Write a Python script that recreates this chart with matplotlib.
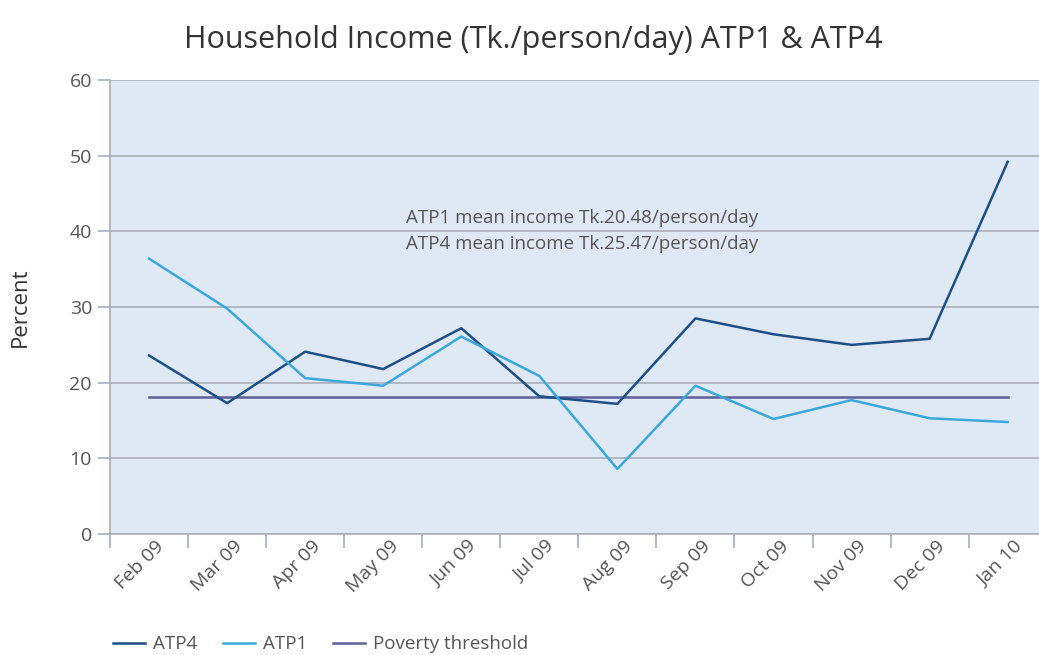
import matplotlib
matplotlib.use("Agg")
from matplotlib import pyplot as plt
from matplotlib.ticker import FixedLocator
from matplotlib.transforms import ScaledTranslation

plt.rcParams['font.family'] = ['Open Sans', 'DejaVu Sans']

# dane
months = ["Feb 09", "Mar 09", "Apr 09", "May 09", "Jun 09", "Jul 09",
          "Aug 09", "Sep 09", "Oct 09", "Nov 09", "Dec 09", "Jan 10"]
atp4 = [23.6, 17.3, 24.1, 21.8, 27.2, 18.2, 17.2, 28.5, 26.4, 25.0, 25.8, 49.2]
atp1 = [36.4, 29.8, 20.6, 19.6, 26.1, 20.9, 8.6, 19.6, 15.2, 17.7, 15.3, 14.8]
poverty = [18.1] * 12
y_ticks = [0, 10, 20, 30, 40, 50, 60]

c_atp4 = "#1d4f86"
c_atp1 = "#3ba7da"
c_pov = "#5c5f98"
c_text = "#555555"
c_grid = "#a8afb7"

fig = plt.figure(figsize=(10.39, 6.55), dpi=100)
ax = fig.add_axes([0.1059, 0.1847, 0.894, 0.6931])
ax.set_facecolor("#dfe9f5")

x = list(range(len(months)))
ax.plot(x, atp4, color=c_atp4, lw=1.8, label="ATP4", zorder=3)
ax.plot(x, atp1, color=c_atp1, lw=1.8, label="ATP1", zorder=3)
ax.plot(x, poverty, color=c_pov, lw=1.8, label="Poverty threshold", zorder=2)

ax.set_xlim(-0.5, 11.4)
ax.set_ylim(0, 60)
ax.set_yticks(y_ticks)
ax.yaxis.grid(True, color=c_grid, lw=1.2)
ax.set_axisbelow(True)

# etykiety osi x
ax.set_xticks(x)
ax.set_xticklabels(months, rotation=45, ha="right", rotation_mode="anchor",
                   fontsize=14, color=c_text)
ax.xaxis.set_minor_locator(FixedLocator([i - 0.5 for i in range(13)]))
ax.tick_params(axis="x", which="major", length=0, pad=8)
ax.tick_params(axis="x", which="minor", length=10, color=c_grid, width=1.2)
ax.tick_params(axis="y", length=9, color=c_grid, width=1.2, labelsize=14,
               labelcolor=c_text, pad=4)
shift = ScaledTranslation(6 / 100, 8 / 100, fig.dpi_scale_trans)
for lab in ax.get_xticklabels():
    lab.set_transform(lab.get_transform() + shift)

for s in ["top", "right"]:
    ax.spines[s].set_visible(False)
for s in ["left", "bottom"]:
    ax.spines[s].set_color(c_grid)
    ax.spines[s].set_linewidth(1.2)

ax.set_ylabel("Percent", fontsize=16, color="#333333", labelpad=28)

ax.text(0.508, 0.667, "ATP1 mean income Tk.20.48/person/day\nATP4 mean income Tk.25.47/person/day",
        transform=ax.transAxes, fontsize=13.5, color=c_text, ha="center", va="center",
        linespacing=1.6)

fig.suptitle("Household Income (Tk./person/day) ATP1 & ATP4", x=0.513, y=0.962,
             fontsize=22, color="#333333")

fig.legend(loc="lower left", bbox_to_anchor=(0.0924, -0.023), ncol=3, frameon=False,
           fontsize=13.5, handlelength=1.7, handletextpad=0.45, columnspacing=1.35,
           labelcolor=c_text)

fig.savefig("out.png", dpi=100)
